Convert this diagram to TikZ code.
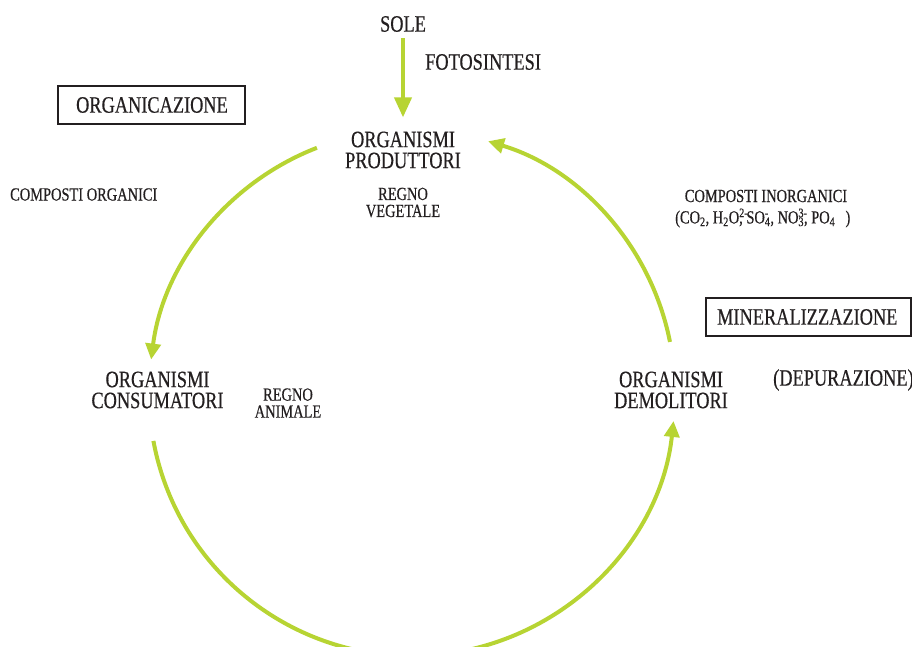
\documentclass[tikz,border=0pt]{standalone}
\usepackage{fontspec}
\setmainfont{Liberation Serif}[FakeStretch=0.78,FakeBold=0.5]
\usetikzlibrary{arrows.meta}
\definecolor{lime}{RGB}{183,212,51}
\definecolor{ink}{RGB}{35,31,32}
\newcommand{\supsub}[2]{\rlap{\textsuperscript{#1}}\textsubscript{#2}}
\begin{document}
\begin{tikzpicture}[x=1pt,y=1pt,
  big/.style={font=\fontsize{23.5}{21}\selectfont, inner sep=0pt, align=center, text=ink},
  small/.style={font=\fontsize{18.5}{17}\selectfont, inner sep=0pt, align=center, text=ink},
  boxed/.style={draw=ink, line width=1.2pt, inner sep=0pt},
  cyc/.style={draw=lime, line width=4pt, -{Triangle[length=16pt,width=15pt]}},
  sun/.style={draw=lime, line width=4pt, -{Triangle[length=20pt,width=17pt]}}]
\path[use as bounding box] (0,0) rectangle (912,-647);

% texts
\node[big] (sole) at (403,-24) {SOLE};
\node[big, anchor=west] (foto) at (425,-62) {FOTOSINTESI};
\node[boxed, minimum width=187pt, minimum height=38pt] (orgbox) at (151.5,-105) {};
\node[big] (org) at (152,-105) {ORGANICAZIONE};
\node[big] (prod) at (403,-150) {ORGANISMI\\PRODUTTORI};
\node[small] (veg) at (403,-202.5) {REGNO\\VEGETALE};
\node[small, anchor=west] (corg) at (10,-194.5) {COMPOSTI ORGANICI};
\node[small] (cinorg) at (766,-196) {COMPOSTI INORGANICI};
\node[small, anchor=west] (form) at (675,-218) {(CO\textsubscript{2}, H\textsubscript{2}O\rlap{\textsuperscript{2-}},\ SO\supsub{-}{4}, NO\supsub{3-}{3}, PO\textsubscript{4}\ \ \,)};
\node[boxed, minimum width=205pt, minimum height=38pt] (minbox) at (808.5,-317) {};
\node[big, anchor=west] (miner) at (717,-317) {MINERALIZZAZIONE};
\node[big] (dem) at (671,-390) {ORGANISMI\\DEMOLITORI};
\node[big, anchor=west] (dep) at (773,-380) {(DEPURAZIONE)};
\node[big] (cons) at (157.5,-390) {ORGANISMI\\CONSUMATORI};
\node[small] (anim) at (288,-403) {REGNO\\ANIMALE};

% connectors
\draw[sun, shorten <=6pt, shorten >=14pt] (sole) -- (prod);
\coordinate (O) at (412,-393);
\draw[cyc] ([shift={(111.2:263)}]O) arc[start angle=111.2, end angle=172.7, radius=263];
\draw[cyc] ([shift={(190.5:263)}]O) arc[start angle=190.5, end angle=353.9, radius=263];
\draw[cyc] ([shift={(11.2:263)}]O) arc[start angle=11.2, end angle=73.2, radius=263];
\end{tikzpicture}
\end{document}
